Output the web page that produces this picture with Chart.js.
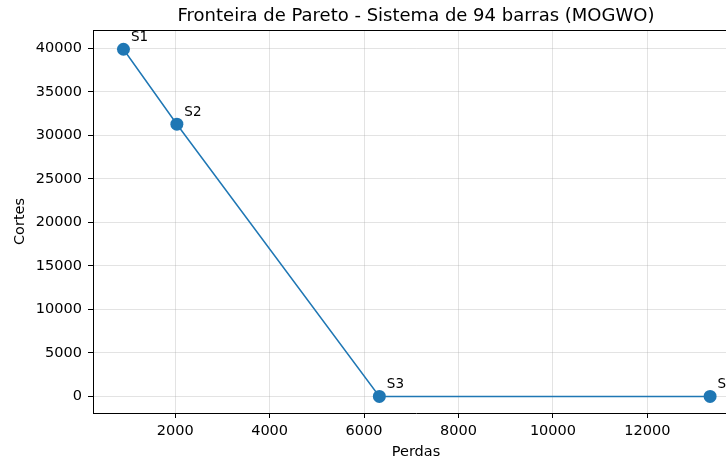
<!DOCTYPE html>
<html>
<head>
<meta charset="utf-8">
<script src="https://cdn.jsdelivr.net/npm/chart.js"></script>
<style>
  html, body { margin: 0; padding: 0; overflow: hidden; background: #fff; font-family: 'DejaVu Sans', sans-serif; }
  #wrap { width: 740px; height: 464px; }
  #warm { position: absolute; left: -999px; top: 0; }
</style>
</head>
<body>
<div id="warm">Fronteira 0123456789</div>
<div id="wrap"><canvas id="chart" width="740" height="464"></canvas></div>
<script>
// Pareto front solutions
const labels = ['S1', 'S2', 'S3', 'S4'];
const perdas = [905, 2036, 6324, 13328];
const cortes = [39885, 31274, 0, 0];
const xTicks = [2000, 4000, 6000, 8000, 10000, 12000];
const yTicks = [0, 5000, 10000, 15000, 20000, 25000, 30000, 35000, 40000];

const FONT = "'DejaVu Sans', sans-serif";
const BLUE = '#1f77b4';
Chart.defaults.font.family = FONT;

// title + top spine + point labels
const extras = {
    id: 'extras',
    afterDatasetsDraw(chart) {
        const ctx = chart.ctx;
        const meta = chart.getDatasetMeta(0);
        ctx.save();
        ctx.fillStyle = '#000';
        ctx.font = '13.5px ' + FONT;
        ctx.textAlign = 'left';
        ctx.textBaseline = 'alphabetic';
        meta.data.forEach((pt, i) => {
            ctx.fillText(labels[i], pt.x + 7.5, pt.y - 8.5);
        });
        ctx.restore();
    },
    afterDraw(chart) {
        const ctx = chart.ctx;
        const area = chart.chartArea;
        ctx.save();
        ctx.strokeStyle = '#000';
        ctx.lineWidth = 1;
        ctx.beginPath();
        ctx.moveTo(area.left, area.top + 0.5);
        ctx.lineTo(area.right, area.top + 0.5);
        ctx.stroke();
        ctx.fillStyle = '#000';
        ctx.font = '18px ' + FONT;
        ctx.textAlign = 'center';
        ctx.textBaseline = 'middle';
        ctx.fillText('Fronteira de Pareto - Sistema de 94 barras (MOGWO)', (area.left + area.right) / 2, 16);
        ctx.restore();
    }
};

function draw() {
    new Chart(document.getElementById('chart'), {
        type: 'scatter',
        data: {
            datasets: [{
                data: perdas.map((x, i) => ({ x: x, y: cortes[i] })),
                showLine: true,
                borderColor: BLUE,
                borderWidth: 1.5,
                backgroundColor: BLUE,
                pointBackgroundColor: BLUE,
                pointBorderWidth: 0,
                pointRadius: 6.5,
                clip: false
            }]
        },
        options: {
            responsive: false,
            animation: false,
            events: [],
            layout: { autoPadding: false, padding: { top: 30, right: 1, left: 0, bottom: 0 } },
            plugins: { legend: { display: false }, tooltip: { enabled: false } },
            scales: {
                x: {
                    type: 'linear',
                    min: 260,
                    max: 13940,
                    afterFit(s) { s.height = 51; },
                    afterBuildTicks(s) { s.ticks = xTicks.map(v => ({ value: v })); },
                    grid: { color: 'rgba(176,176,176,0.35)', tickColor: '#000', tickLength: 5, lineWidth: 1 },
                    border: { display: true, color: '#000', width: 1 },
                    ticks: { color: '#000', font: { family: FONT, size: 14.5 }, padding: 5, maxRotation: 0, callback: v => String(v) },
                    title: { display: true, text: 'Perdas', color: '#000', font: { family: FONT, size: 14.5 }, padding: { top: 0, bottom: 3 } }
                },
                y: {
                    type: 'linear',
                    min: -1910,
                    max: 42100,
                    afterFit(s) { s.width = 93; },
                    afterBuildTicks(s) { s.ticks = yTicks.map(v => ({ value: v })); },
                    grid: { color: 'rgba(176,176,176,0.35)', tickColor: '#000', tickLength: 5, lineWidth: 1 },
                    border: { display: true, color: '#000', width: 1 },
                    ticks: { color: '#000', font: { family: FONT, size: 14.5 }, padding: 6, callback: v => String(v) },
                    title: { display: true, text: 'Cortes', color: '#000', font: { family: FONT, size: 14.5 }, padding: { top: 12, bottom: 0 } }
                }
            }
        },
        plugins: [extras]
    });
}

document.fonts.load("14px 'DejaVu Sans'").then(draw, draw);
</script>
</body>
</html>
